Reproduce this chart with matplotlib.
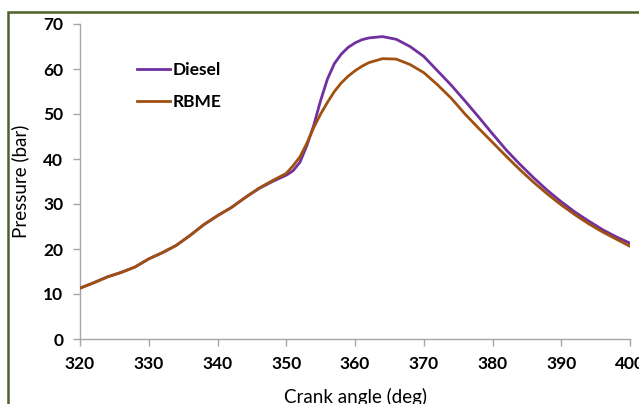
import matplotlib
matplotlib.use("Agg")
import matplotlib.pyplot as plt
from matplotlib.patches import Rectangle

# crank angle (deg) and cylinder pressure (bar)
angle = [320, 322, 324, 326, 328, 330, 332, 334, 336, 338, 340, 342, 344, 346,
         348, 350, 351, 352, 353, 354, 355, 356, 357, 358, 359, 360, 361, 362,
         364, 366, 368, 370, 372, 374, 376, 378, 380, 382, 384, 386, 388, 390,
         392, 394, 396, 398, 400]

diesel = [11.3, 12.5, 13.8, 14.8, 16.0, 17.8, 19.2, 20.8, 23.0, 25.4, 27.4, 29.2,
          31.4, 33.4, 35.0, 36.4, 37.4, 39.3, 43.0, 47.5, 53.0, 57.8, 61.2, 63.3,
          64.8, 65.8, 66.5, 66.9, 67.2, 66.6, 65.0, 62.8, 59.6, 56.4, 52.9, 49.3,
          45.6, 42.0, 38.8, 35.8, 33.0, 30.5, 28.2, 26.2, 24.3, 22.7, 21.3]

rbme = [11.3, 12.5, 13.8, 14.8, 16.0, 17.8, 19.2, 20.8, 23.0, 25.4, 27.4, 29.2,
        31.4, 33.5, 35.2, 36.8, 38.5, 40.5, 43.5, 47.0, 50.0, 52.6, 55.0, 56.9,
        58.4, 59.6, 60.6, 61.4, 62.3, 62.2, 61.0, 59.2, 56.5, 53.5, 50.0, 46.8,
        43.7, 40.6, 37.6, 34.8, 32.2, 29.8, 27.6, 25.6, 23.8, 22.2, 20.6]

xticks = [320, 330, 340, 350, 360, 370, 380, 390, 400]
yticks = [0, 10, 20, 30, 40, 50, 60, 70]

plt.rcParams["font.family"] = ["Lato", "DejaVu Sans"]

W, H = 639, 404
fig = plt.figure(figsize=(W / 100, H / 100), dpi=100)
ax = fig.add_axes([80 / W, 1 - 339 / H, 550 / W, 315 / H])

ax.plot(angle, diesel, color="#7030A0", lw=2.0, label="Diesel", zorder=3)
ax.plot(angle, rbme, color="#A0500F", lw=2.0, label="RBME", zorder=4)

ax.set_xlim(320, 400)
ax.set_ylim(0, 70)
ax.set_xticks(xticks)
ax.set_yticks(yticks)

grey = "#A6A6A6"
for s in ["top", "right"]:
    ax.spines[s].set_visible(False)
for s in ["left", "bottom"]:
    ax.spines[s].set_color(grey)
    ax.spines[s].set_linewidth(1.0)
ax.tick_params(axis="both", direction="out", length=5, width=1.0, color=grey,
               labelsize=12.5, pad=7)
for lab in ax.get_xticklabels() + ax.get_yticklabels():
    lab.set_fontweight("bold")

ax.set_ylabel("Pressure (bar)", fontsize=13.5, labelpad=10)
# the source image crops the lower part of this label
ax.set_xlabel("Crank angle (deg)", fontsize=13.5, labelpad=12)

leg = ax.legend(loc="upper left", bbox_to_anchor=(0.075, 0.93), frameon=False,
                handlelength=1.9, handletextpad=0.15, labelspacing=0.95,
                prop={"weight": "bold", "size": 12.5})

# green frame around the figure (cropped at right and bottom)
fig.patches.append(Rectangle((8 / W, -0.1), 1.2, 1 - 12 / H + 0.1,
                             transform=fig.transFigure, fill=False,
                             edgecolor="#4F6228", lw=1.8))

fig.savefig("out.png", dpi=100)
